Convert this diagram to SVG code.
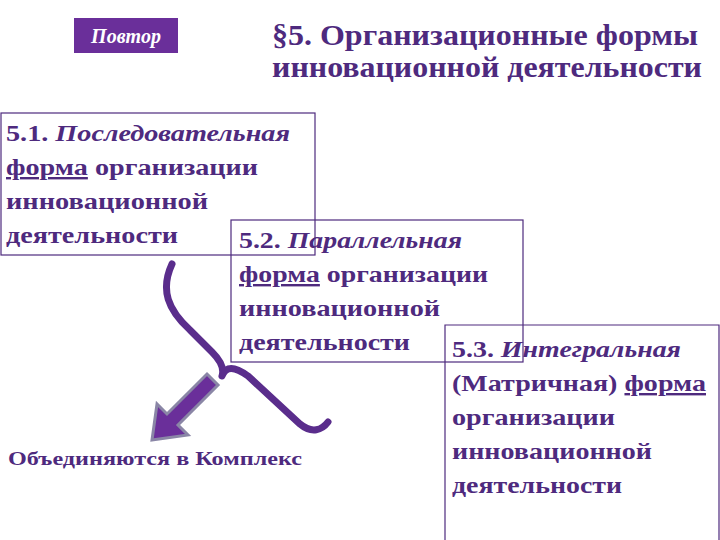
<svg xmlns="http://www.w3.org/2000/svg" width="720" height="540" viewBox="0 0 720 540">
<style>
.t{font-family:"Liberation Serif",serif;font-weight:bold;fill:#4e2a7e;font-size:24px}
.i{font-style:italic}
.u{text-decoration:underline}
.box{fill:none;stroke:#4e2a7e;stroke-width:1.2}
</style>
<rect width="720" height="540" fill="#fff"/>
<g id="repeat"><rect x="74" y="18" width="104" height="35" fill="#6a2f9a"/><text x="126" y="43" text-anchor="middle" class="t i" style="fill:#fff;font-size:20px">Повтор</text></g>
<g id="title"><text class="t" style="font-size:29px" x="272" y="45" textLength="426" lengthAdjust="spacingAndGlyphs">§5. Организационные формы</text><text class="t" style="font-size:29px" x="272" y="77" textLength="430" lengthAdjust="spacingAndGlyphs">инновационной деятельности</text></g>
<g id="connectors">
<path d="M172,264 C160,290 168,310 190,330 L212,352 C222,362 224,370 222,376 M222,376 C226,366 234,366 248,376 L300,424 C312,434 322,430 328,422" fill="none" stroke="#5a2d8c" stroke-width="7" stroke-linecap="round"/>
<path d="M207,374 L218,385 L178,425 L188,435 L152,440 L157,404 L167,414 Z" fill="#6a2f9a" stroke="#8a86a6" stroke-width="3"/>
</g>
<g id="n1"><rect class="box" x="1" y="113" width="314" height="142"/>
<text class="t" x="6" y="141" textLength="284" lengthAdjust="spacingAndGlyphs">5.1. <tspan class="i">Последовательная</tspan></text>
<text class="t" x="6" y="175" textLength="252" lengthAdjust="spacingAndGlyphs"><tspan class="u">форма</tspan> организации</text>
<text class="t" x="6" y="209" textLength="202" lengthAdjust="spacingAndGlyphs">инновационной</text>
<text class="t" x="6" y="243" textLength="172" lengthAdjust="spacingAndGlyphs">деятельности</text></g>
<g id="n2"><rect class="box" x="231" y="220" width="292" height="142"/>
<text class="t" x="239" y="248" textLength="223" lengthAdjust="spacingAndGlyphs">5.2. <tspan class="i">Параллельная</tspan></text>
<text class="t" x="239" y="282" textLength="249" lengthAdjust="spacingAndGlyphs"><tspan class="u">форма</tspan> организации</text>
<text class="t" x="239" y="316" textLength="201" lengthAdjust="spacingAndGlyphs">инновационной</text>
<text class="t" x="239" y="350" textLength="171" lengthAdjust="spacingAndGlyphs">деятельности</text></g>
<g id="n3"><path class="box" d="M445,545 V325 H719 V545"/>
<text class="t" x="452" y="357" textLength="229" lengthAdjust="spacingAndGlyphs">5.3. <tspan class="i">Интегральная</tspan></text>
<text class="t" x="452" y="391" textLength="254" lengthAdjust="spacingAndGlyphs">(Матричная) <tspan class="u">форма</tspan></text>
<text class="t" x="452" y="425" textLength="163" lengthAdjust="spacingAndGlyphs">организации</text>
<text class="t" x="452" y="459" textLength="200" lengthAdjust="spacingAndGlyphs">инновационной</text>
<text class="t" x="452" y="493" textLength="170" lengthAdjust="spacingAndGlyphs">деятельности</text></g>
<g id="complex"><text class="t" style="font-size:19px" x="8" y="465" textLength="294" lengthAdjust="spacingAndGlyphs">Объединяются в Комплекс</text></g>
</svg>
